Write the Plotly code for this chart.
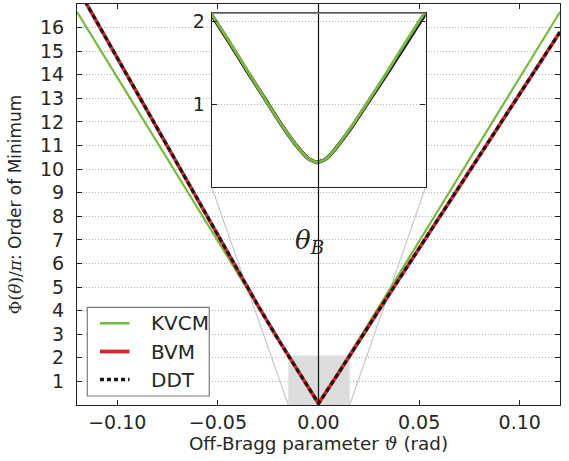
import plotly.graph_objects as go

# ---- data ----
# main panel (coarse sampling, as drawn in the large plot)
theta = [-0.12, -0.11, -0.10, -0.09, -0.08, -0.07, -0.06, -0.05, -0.04, -0.03, -0.02, -0.01, 0.0,
         0.01, 0.02, 0.03, 0.04, 0.05, 0.06, 0.07, 0.08, 0.09, 0.10, 0.11, 0.12]
kvcm = [16.67, 15.28, 13.90, 12.51, 11.12, 9.74, 8.35, 6.96, 5.58, 4.19, 2.80, 1.40, 0.06,
        1.40, 2.78, 4.16, 5.55, 6.94, 8.33, 9.72, 11.10, 12.49, 13.88, 15.27, 16.66]
bvm = [17.72, 16.21, 14.70, 13.19, 11.68, 10.17, 8.66, 7.15, 5.65, 4.20, 2.78, 1.40, 0.06,
       1.36, 2.71, 4.02, 5.33, 6.64, 7.95, 9.26, 10.57, 11.88, 13.19, 14.50, 15.81]
ddt = [17.72, 16.21, 14.70, 13.19, 11.68, 10.17, 8.66, 7.15, 5.65, 4.20, 2.78, 1.40, 0.06,
       1.36, 2.71, 4.02, 5.33, 6.64, 7.95, 9.26, 10.57, 11.88, 13.19, 14.50, 15.81]

# inset (fine sampling around the Bragg angle)
theta_in = [-0.016, -0.015, -0.0125, -0.01, -0.0075, -0.005, -0.0025, -0.00125, 0.0,
            0.00125, 0.0025, 0.005, 0.0075, 0.01, 0.0125, 0.015, 0.016]
kvcm_in = [2.23, 2.09, 1.76, 1.42, 1.08, 0.75, 0.46, 0.35, 0.30,
           0.34, 0.45, 0.74, 1.06, 1.39, 1.73, 2.06, 2.20]
bvm_in = [2.22, 2.08, 1.75, 1.41, 1.08, 0.75, 0.46, 0.35, 0.30,
          0.34, 0.45, 0.73, 1.05, 1.37, 1.70, 2.03, 2.17]
ddt_in = [2.22, 2.08, 1.75, 1.41, 1.08, 0.75, 0.46, 0.35, 0.30,
          0.34, 0.45, 0.73, 1.05, 1.37, 1.70, 2.03, 2.17]

x_ticks = [-0.10, -0.05, 0.0, 0.05, 0.10]
y_ticks = list(range(1, 17))
inset_y_ticks = [1, 2]
legend_names = ["KVCM", "BVM", "DDT"]

X_RANGE = [-0.12, 0.12]
Y_RANGE = [0, 17]
INSET_X_RANGE = [-0.015, 0.0155]
INSET_Y_RANGE = [0, 2.1]

W, H = 569, 461
PL, PR, PT, PB = 77, 560, 4, 405   # plot-area edges in pixels


def pxx(p):
    return (p - PL) / (PR - PL)


def pxy(p):
    return (PB - p) / (PB - PT)


INSET_XDOM = [pxx(211.7), pxx(425.5)]
INSET_YDOM = [pxy(187.3), pxy(13.3)]

GREEN = "#78b943"
RED = "#d7252b"
BLACK = "#1a1a1a"
TXT = "#262626"
SERIF = "DejaVu Serif"
DOT = "5px,3px"
GRID = "#b0b0b0"
GRIDDASH = "1px,2px"

fig = go.Figure()

# main traces
fig.add_trace(go.Scatter(x=theta, y=kvcm, mode="lines", name=legend_names[0], showlegend=False,
                         line=dict(color=GREEN, width=2.2)))
fig.add_trace(go.Scatter(x=theta, y=bvm, mode="lines", name=legend_names[1], showlegend=False,
                         line=dict(color=RED, width=3.6)))
fig.add_trace(go.Scatter(x=theta, y=ddt, mode="lines", name=legend_names[2], showlegend=False,
                         line=dict(color=BLACK, width=3.2, dash=DOT)))

# inset traces
fig.add_trace(go.Scatter(x=theta_in, y=bvm_in, mode="lines", showlegend=False, xaxis="x2", yaxis="y2",
                         line=dict(color=RED, width=3.5, shape="spline", smoothing=0.6)))
fig.add_trace(go.Scatter(x=theta_in, y=ddt_in, mode="lines", showlegend=False, xaxis="x2", yaxis="y2",
                         line=dict(color=BLACK, width=3.5, shape="spline", smoothing=0.6)))
fig.add_trace(go.Scatter(x=theta_in, y=kvcm_in, mode="lines", showlegend=False, xaxis="x2", yaxis="y2",
                         line=dict(color=GREEN, width=3, shape="spline", smoothing=0.6)))


def px_to_x(f):
    return X_RANGE[0] + f * (X_RANGE[1] - X_RANGE[0])


def py_to_y(f):
    return Y_RANGE[0] + f * (Y_RANGE[1] - Y_RANGE[0])


shapes = [
    dict(type="rect", xref="x", yref="y", x0=INSET_X_RANGE[0], x1=INSET_X_RANGE[1],
         y0=INSET_Y_RANGE[0], y1=INSET_Y_RANGE[1], fillcolor="#dcdcdc",
         line=dict(width=0), layer="between"),
    dict(type="line", xref="x", yref="y", x0=INSET_X_RANGE[0], y0=INSET_Y_RANGE[0],
         x1=px_to_x(INSET_XDOM[0]), y1=py_to_y(INSET_YDOM[0]),
         line=dict(color="#c8c8c8", width=1.2), layer="between"),
    dict(type="line", xref="x", yref="y", x0=INSET_X_RANGE[1], y0=INSET_Y_RANGE[0],
         x1=px_to_x(INSET_XDOM[1]), y1=py_to_y(INSET_YDOM[0]),
         line=dict(color="#c8c8c8", width=1.2), layer="between"),
    dict(type="line", xref="x", yref="paper", x0=0, x1=0, y0=0, y1=1,
         line=dict(color="#111111", width=1.2), layer="above"),
    dict(type="line", xref="paper", yref="paper", x0=INSET_XDOM[0], x1=INSET_XDOM[1],
         y0=INSET_YDOM[1], y1=INSET_YDOM[1], line=dict(color="#8c8c8c", width=1.6), layer="above"),
    # legend frame
    dict(type="rect", xref="paper", yref="paper", x0=pxx(87.3), x1=pxx(209.3),
         y0=pxy(396), y1=pxy(307.3), fillcolor="white",
         line=dict(color="#7a7a7a", width=1.2), layer="above"),
]

annotations = [dict(x=0, y=6.95, xref="x", yref="y", showarrow=False, xanchor="center",
                    yanchor="middle", xshift=-9,
                    text="<i>θ</i><sub><i>B</i></sub>",
                    font=dict(family=SERIF, size=26, color=TXT))]

legend_styles = [dict(color=GREEN, width=2.6), dict(color=RED, width=3.8),
                 dict(color=BLACK, width=3.6, dash="4px,3px")]
legend_rows = [323.3, 351.5, 379.5]
for name, sty, ry in zip(legend_names, legend_styles, legend_rows):
    shapes.append(dict(type="line", xref="paper", yref="paper", x0=pxx(100), x1=pxx(129.5),
                       y0=pxy(ry), y1=pxy(ry), line=sty, layer="above"))
    annotations.append(dict(x=pxx(149), y=pxy(ry), xref="paper", yref="paper", showarrow=False,
                            xanchor="left", yanchor="middle", text=name,
                            font=dict(size=20, color=TXT)))

axis_common = dict(showline=True, linecolor="#222222", linewidth=1.2, ticks="inside",
                   tickcolor="#222222", ticklen=5, zeroline=False, automargin=False)

fig.update_layout(
    width=W, height=H,
    margin=dict(l=PL, r=W - PR, t=PT, b=H - PB, autoexpand=False),
    paper_bgcolor="white", plot_bgcolor="white",
    font=dict(family="DejaVu Sans", size=18, color=TXT),
    showlegend=False,
    xaxis=dict(domain=[0, 1], range=X_RANGE, tickvals=x_ticks, tickformat=".2f",
               mirror="ticks", showgrid=False, tickfont=dict(size=19),
               title=dict(text="Off-Bragg parameter <span style=\"font-family:DejaVu Serif\"><i>ϑ</i></span> (rad)",
                          font=dict(size=18.3), standoff=5),
               **axis_common),
    yaxis=dict(domain=[0, 1], range=Y_RANGE, tickvals=y_ticks, mirror="ticks",
               showgrid=True, gridcolor=GRID, griddash=GRIDDASH, gridwidth=1,
               ticklabelstandoff=8, tickfont=dict(size=19),
               title=dict(text="<span style=\"font-family:DejaVu Serif\">Φ(<i>θ</i>)/<i>π</i></span>: Order of Minimum",
                          font=dict(size=17), standoff=13),
               **axis_common),
    xaxis2=dict(domain=INSET_XDOM, anchor="y2", range=INSET_X_RANGE, showticklabels=False,
                showline=True, linecolor="#222222", linewidth=1.2, mirror=True, ticks="",
                showgrid=False, zeroline=False),
    yaxis2=dict(domain=INSET_YDOM, anchor="x2", range=INSET_Y_RANGE, tickvals=inset_y_ticks,
                mirror="ticks", showgrid=True, gridcolor=GRID, griddash=GRIDDASH, gridwidth=1,
                ticklabelstandoff=2, tickfont=dict(size=19), **axis_common),
    shapes=shapes,
    annotations=annotations,
)

fig.write_html("out.html", config={"displayModeBar": False},
               post_script="document.body.style.margin='0px';document.body.style.padding='0px';")
